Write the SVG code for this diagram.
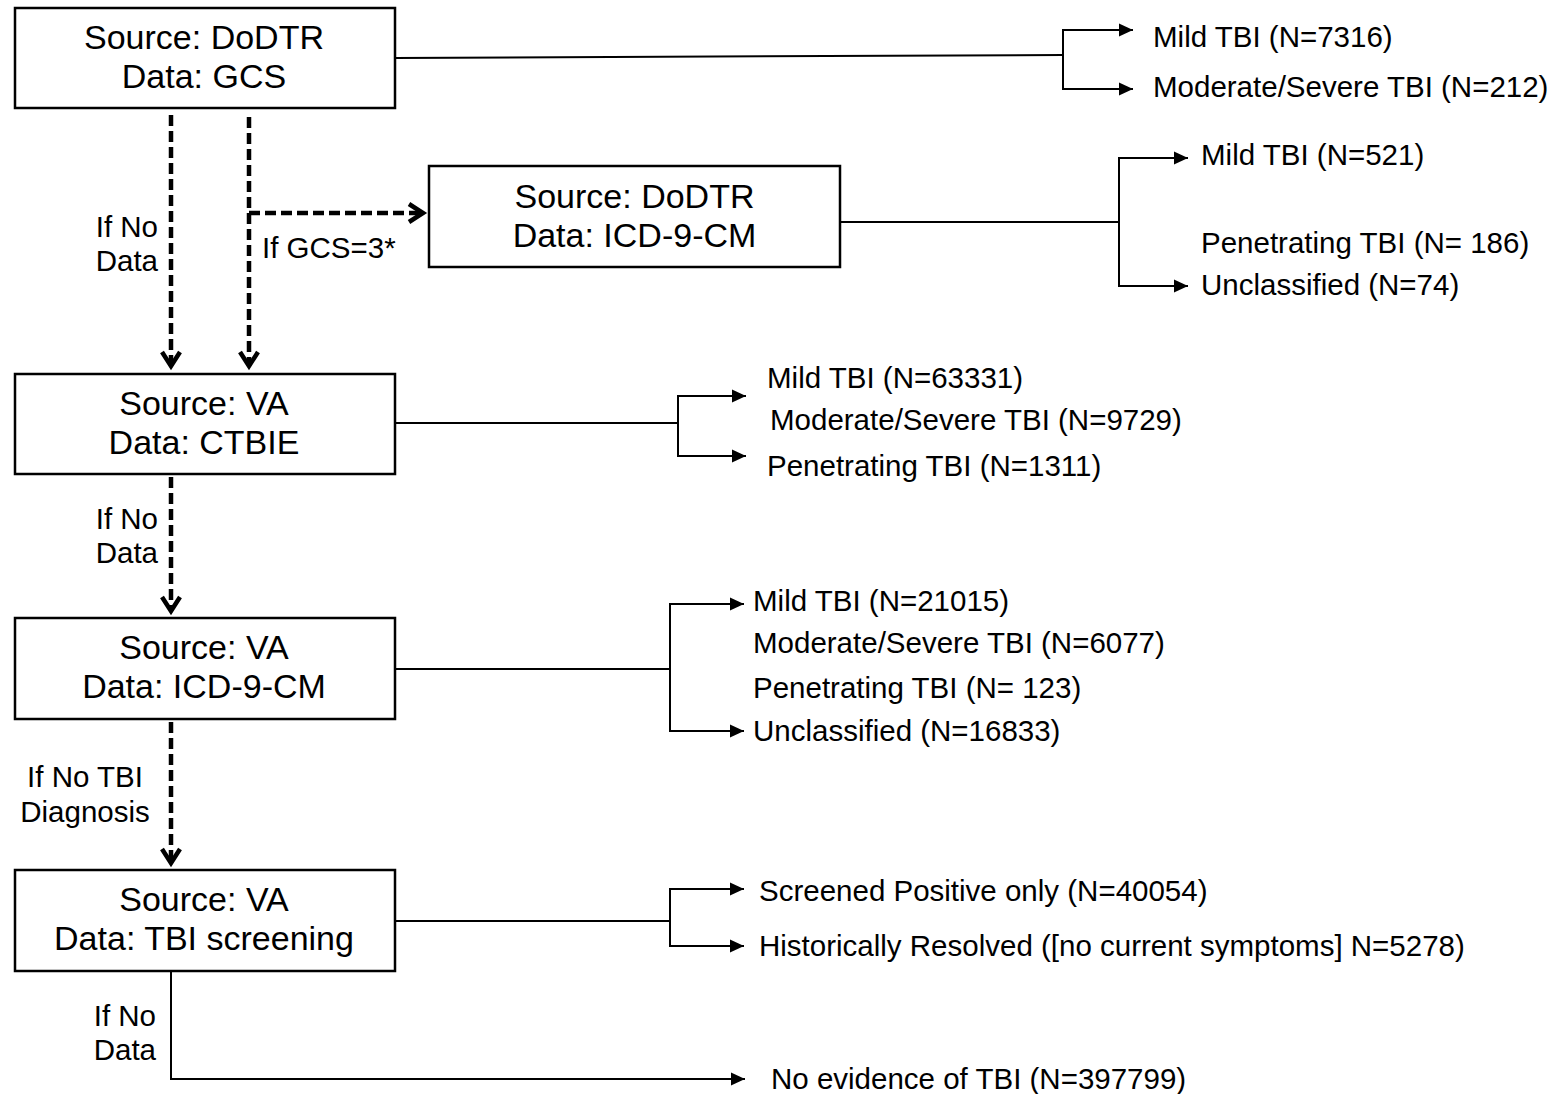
<svg xmlns="http://www.w3.org/2000/svg" width="1555" height="1094" viewBox="0 0 1555 1094">
<style>
.box{fill:#fff;stroke:#000;stroke-width:2.5}
.bt{font-family:"Liberation Sans",Arial,sans-serif;font-size:34px;fill:#000;text-anchor:middle}
.lb{font-family:"Liberation Sans",Arial,sans-serif;font-size:29.5px;fill:#000}
.ln{fill:none;stroke:#000;stroke-width:2}
.arr{fill:none;stroke:#000;stroke-width:2;marker-end:url(#tri)}
.dash{fill:none;stroke:#000;stroke-width:4.5;stroke-dasharray:11 5;marker-end:url(#vee)}
</style>
<defs>
<marker id="tri" markerUnits="userSpaceOnUse" viewBox="-16 -8 18 16" refX="0" refY="0" markerWidth="18" markerHeight="16" orient="auto" overflow="visible">
<path d="M-14,-6.5 L0,0 L-14,6.5 Z" fill="#000" stroke="none"/>
</marker>
<marker id="vee" markerUnits="userSpaceOnUse" viewBox="-18 -14 22 28" refX="0" refY="0" markerWidth="22" markerHeight="28" orient="auto" overflow="visible">
<path d="M-14,-9 L0,0 L-14,9" fill="none" stroke="#000" stroke-width="4.5" stroke-dasharray="none"/>
</marker>
</defs>
<rect width="1555" height="1094" fill="#fff"/>

<g id="connectors">
<path class="dash" d="M171,115 V366"/>
<path class="dash" d="M249,117 V366"/>
<path class="dash" d="M249,213 H423"/>
<path class="dash" d="M171,477 V611"/>
<path class="dash" d="M171,722 V863"/>

<path class="ln" d="M395,58 L1063,55"/>
<path class="arr" d="M1063,56 V30 H1133"/>
<path class="arr" d="M1063,56 V89 H1133"/>

<path class="ln" d="M840,222 H1119"/>
<path class="arr" d="M1119,222 V158 H1188"/>
<path class="arr" d="M1119,222 V286 H1188"/>

<path class="ln" d="M395,423 H678"/>
<path class="arr" d="M678,423 V396 H746"/>
<path class="arr" d="M678,423 V456 H746"/>

<path class="ln" d="M395,669 H670"/>
<path class="arr" d="M670,669 V604 H744"/>
<path class="arr" d="M670,669 V731 H744"/>

<path class="ln" d="M395,921 H670"/>
<path class="arr" d="M670,921 V889 H744"/>
<path class="arr" d="M670,921 V946 H744"/>

<path class="arr" d="M171,971 V1079 H745"/>

<text class="lb" x="158" y="237" text-anchor="end">If No</text>
<text class="lb" x="158" y="271" text-anchor="end">Data</text>
<text class="lb" x="262" y="258">If GCS=3*</text>
<text class="lb" x="158" y="529" text-anchor="end">If No</text>
<text class="lb" x="158" y="563" text-anchor="end">Data</text>
<text class="lb" x="85" y="787" text-anchor="middle">If No TBI</text>
<text class="lb" x="85" y="822" text-anchor="middle">Diagnosis</text>
<text class="lb" x="156" y="1026" text-anchor="end">If No</text>
<text class="lb" x="156" y="1060" text-anchor="end">Data</text>
</g>

<g id="node-dodtr-gcs">
<rect class="box" x="15" y="8" width="380" height="100"/>
<text class="bt" x="204" y="49">Source: DoDTR</text>
<text class="bt" x="204" y="88">Data: GCS</text>
</g>
<g id="node-dodtr-icd">
<rect class="box" x="429" y="166" width="411" height="101"/>
<text class="bt" x="634.5" y="208">Source: DoDTR</text>
<text class="bt" x="634.5" y="247">Data: ICD-9-CM</text>
</g>
<g id="node-va-ctbie">
<rect class="box" x="15" y="374" width="380" height="100"/>
<text class="bt" x="204" y="415">Source: VA</text>
<text class="bt" x="204" y="454">Data: CTBIE</text>
</g>
<g id="node-va-icd">
<rect class="box" x="15" y="618" width="380" height="101"/>
<text class="bt" x="204" y="659">Source: VA</text>
<text class="bt" x="204" y="698">Data: ICD-9-CM</text>
</g>
<g id="node-va-screen">
<rect class="box" x="15" y="870" width="380" height="101"/>
<text class="bt" x="204" y="911">Source: VA</text>
<text class="bt" x="204" y="950">Data: TBI screening</text>
</g>

<g id="out-gcs">
<text class="lb" x="1153" y="47">Mild TBI (N=7316)</text>
<text class="lb" x="1153" y="97">Moderate/Severe TBI (N=212)</text>
</g>
<g id="out-dodtr-icd">
<text class="lb" x="1201" y="165">Mild TBI (N=521)</text>
<text class="lb" x="1201" y="253">Penetrating TBI (N= 186)</text>
<text class="lb" x="1201" y="295">Unclassified (N=74)</text>
</g>
<g id="out-ctbie">
<text class="lb" x="767" y="388">Mild TBI (N=63331)</text>
<text class="lb" x="770" y="430">Moderate/Severe TBI (N=9729)</text>
<text class="lb" x="767" y="476">Penetrating TBI (N=1311)</text>
</g>
<g id="out-va-icd">
<text class="lb" x="753" y="611">Mild TBI (N=21015)</text>
<text class="lb" x="753" y="653">Moderate/Severe TBI (N=6077)</text>
<text class="lb" x="753" y="698">Penetrating TBI (N= 123)</text>
<text class="lb" x="753" y="741">Unclassified (N=16833)</text>
</g>
<g id="out-screen">
<text class="lb" x="759" y="901">Screened Positive only (N=40054)</text>
<text class="lb" x="759" y="956">Historically Resolved ([no current symptoms] N=5278)</text>
</g>
<g id="out-none">
<text class="lb" x="771" y="1089">No evidence of TBI (N=397799)</text>
</g>
</svg>
